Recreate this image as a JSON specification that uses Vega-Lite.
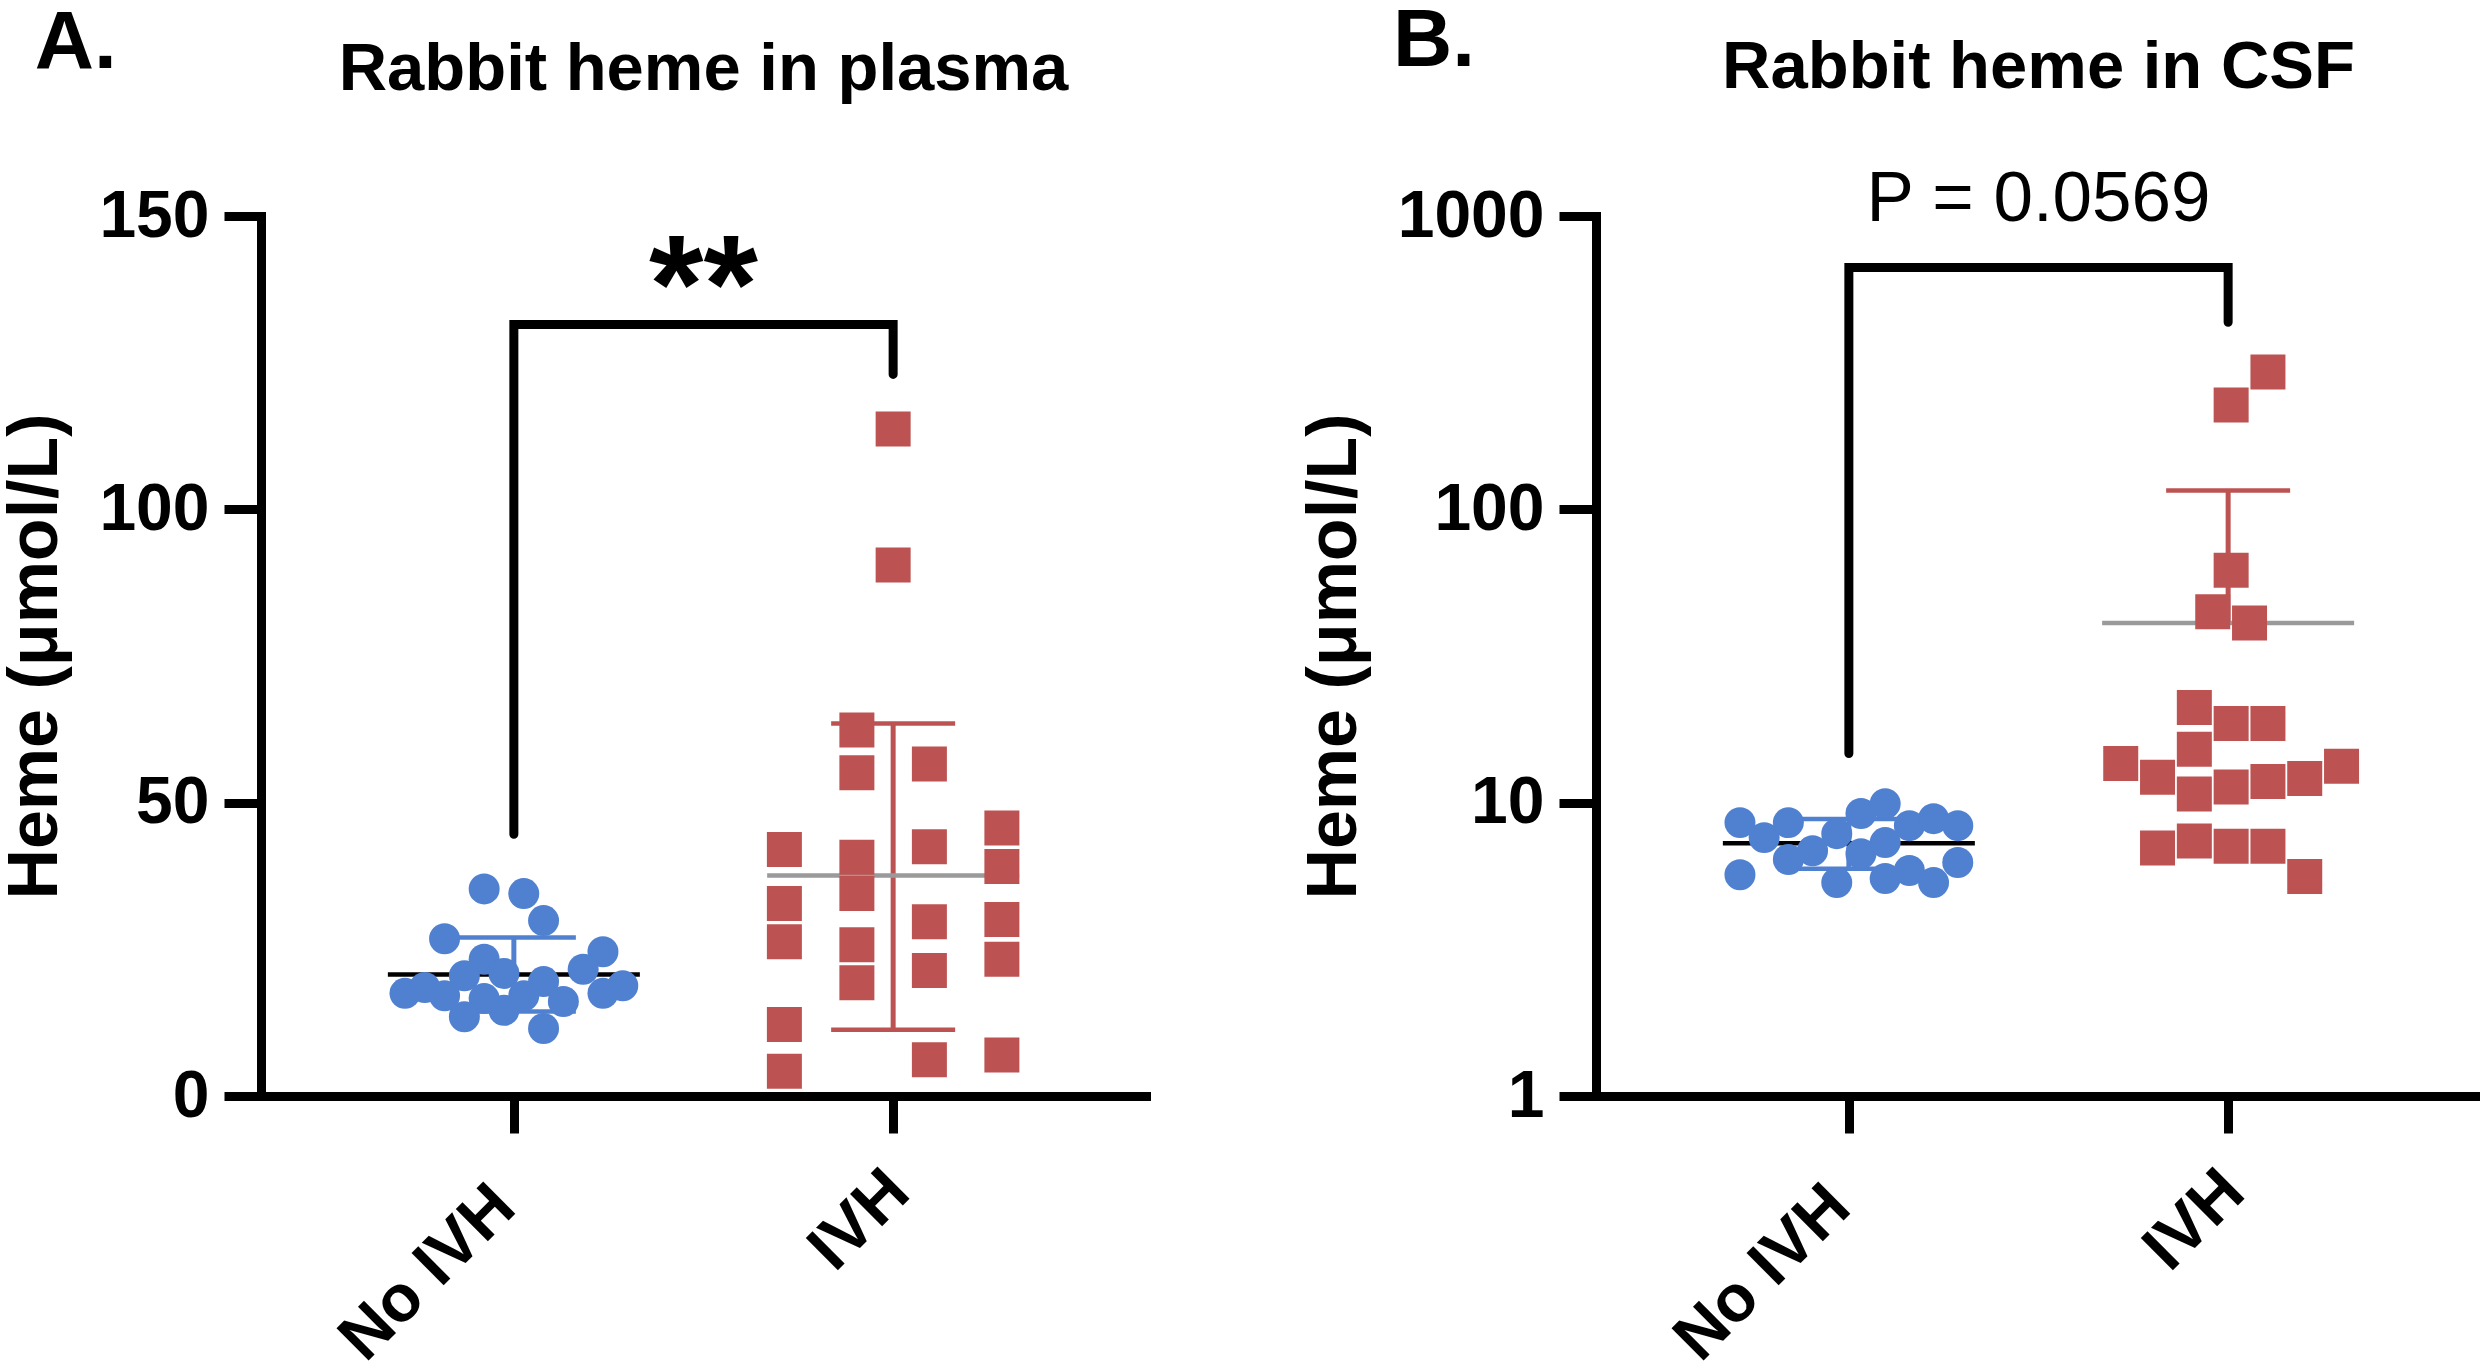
{
  "$schema": "https://vega.github.io/schema/vega-lite/v6.json",
  "padding": 0,
  "background": "white",
  "config": {
    "font": "Liberation Sans",
    "view": {"stroke": null},
    "axis": {
      "domainColor": "#000", "domainWidth": 9, "domainCap": "square",
      "tickColor": "#000", "tickWidth": 9, "tickSize": 37,
      "labelFont": "Liberation Sans", "labelFontSize": 66, "labelFontWeight": "bold", "labelColor": "#000", "labelPadding": 15, "labelLimit": 1000,
      "titleFont": "Liberation Sans", "titleFontSize": 70, "titleFontWeight": "bold", "titleColor": "#000", "titlePadding": 27,
      "grid": false
    },
    "axisX": {
      "labelAngle": -45, "labelAlign": "right", "labelBaseline": "alphabetic",
      "labelPadding": {"condition": {"test": "datum.value === 'IVH'", "value": 62}, "value": 77},
      "labelOffset": {"condition": {"test": "datum.value === 'IVH'", "value": 19}, "value": 4},
      "labelOverlap": false, "labelFlush": false, "labelLimit": 1000
    }
  },
  "datasets": {
    "plasma": [
      {"group": "No IVH", "col": -1.5, "heme": 35.3}, {"group": "No IVH", "col": 0.5, "heme": 34.5}, {"group": "No IVH", "col": 1.5, "heme": 29.9},
      {"group": "No IVH", "col": -3.5, "heme": 26.8}, {"group": "No IVH", "col": 4.5, "heme": 24.6}, {"group": "No IVH", "col": -1.5, "heme": 23.3},
      {"group": "No IVH", "col": 3.5, "heme": 21.6}, {"group": "No IVH", "col": -0.5, "heme": 20.9}, {"group": "No IVH", "col": -2.5, "heme": 20.5},
      {"group": "No IVH", "col": -5.5, "heme": 17.5}, {"group": "No IVH", "col": -4.5, "heme": 18.5}, {"group": "No IVH", "col": -3.5, "heme": 17.1},
      {"group": "No IVH", "col": 1.5, "heme": 19.5}, {"group": "No IVH", "col": 5.5, "heme": 18.8}, {"group": "No IVH", "col": 4.5, "heme": 17.5},
      {"group": "No IVH", "col": -1.5, "heme": 16.6}, {"group": "No IVH", "col": 0.5, "heme": 17.1}, {"group": "No IVH", "col": 2.5, "heme": 16.1},
      {"group": "No IVH", "col": -2.5, "heme": 13.5}, {"group": "No IVH", "col": -0.5, "heme": 14.6}, {"group": "No IVH", "col": 1.5, "heme": 11.5},
      {"group": "IVH", "col": 0, "heme": 113.7}, {"group": "IVH", "col": 0, "heme": 90.5}, {"group": "IVH", "col": -0.5, "heme": 62.4},
      {"group": "IVH", "col": -0.5, "heme": 55.1}, {"group": "IVH", "col": 0.5, "heme": 56.6}, {"group": "IVH", "col": -1.5, "heme": 42.0},
      {"group": "IVH", "col": -0.5, "heme": 40.7}, {"group": "IVH", "col": 0.5, "heme": 42.5}, {"group": "IVH", "col": 1.5, "heme": 45.7},
      {"group": "IVH", "col": 1.5, "heme": 39.1}, {"group": "IVH", "col": -1.5, "heme": 32.8}, {"group": "IVH", "col": -0.5, "heme": 34.5},
      {"group": "IVH", "col": -1.5, "heme": 26.3}, {"group": "IVH", "col": -0.5, "heme": 25.8}, {"group": "IVH", "col": 0.5, "heme": 29.7},
      {"group": "IVH", "col": 1.5, "heme": 30.1}, {"group": "IVH", "col": -0.5, "heme": 19.3}, {"group": "IVH", "col": 0.5, "heme": 21.4},
      {"group": "IVH", "col": 1.5, "heme": 23.3}, {"group": "IVH", "col": -1.5, "heme": 12.2}, {"group": "IVH", "col": -1.5, "heme": 4.2},
      {"group": "IVH", "col": 0.5, "heme": 6.2}, {"group": "IVH", "col": 1.5, "heme": 7.0}
    ],
    "csf": [
      {"group": "No IVH", "col": -4.5, "heme": 8.55}, {"group": "No IVH", "col": -4.5, "heme": 5.68}, {"group": "No IVH", "col": -3.5, "heme": 7.60},
      {"group": "No IVH", "col": -2.5, "heme": 8.55}, {"group": "No IVH", "col": -2.5, "heme": 6.40}, {"group": "No IVH", "col": -1.5, "heme": 6.86},
      {"group": "No IVH", "col": -0.5, "heme": 7.84}, {"group": "No IVH", "col": -0.5, "heme": 5.34}, {"group": "No IVH", "col": 0.5, "heme": 9.18},
      {"group": "No IVH", "col": 0.5, "heme": 6.70}, {"group": "No IVH", "col": 1.5, "heme": 9.92}, {"group": "No IVH", "col": 1.5, "heme": 7.31},
      {"group": "No IVH", "col": 1.5, "heme": 5.51}, {"group": "No IVH", "col": 2.5, "heme": 8.35}, {"group": "No IVH", "col": 2.5, "heme": 5.87},
      {"group": "No IVH", "col": 3.5, "heme": 8.82}, {"group": "No IVH", "col": 3.5, "heme": 5.34}, {"group": "No IVH", "col": 4.5, "heme": 8.35},
      {"group": "No IVH", "col": 4.5, "heme": 6.25},
      {"group": "IVH", "col": 1, "heme": 294}, {"group": "IVH", "col": 0, "heme": 227}, {"group": "IVH", "col": 0, "heme": 62},
      {"group": "IVH", "col": -0.5, "heme": 44.8}, {"group": "IVH", "col": 0.5, "heme": 41}, {"group": "IVH", "col": -1, "heme": 21.1},
      {"group": "IVH", "col": 0, "heme": 18.6}, {"group": "IVH", "col": 1, "heme": 18.6}, {"group": "IVH", "col": -1, "heme": 15.2},
      {"group": "IVH", "col": -3, "heme": 13.6}, {"group": "IVH", "col": -2, "heme": 12.2}, {"group": "IVH", "col": -1, "heme": 10.7},
      {"group": "IVH", "col": 0, "heme": 11.3}, {"group": "IVH", "col": 1, "heme": 11.8}, {"group": "IVH", "col": 2, "heme": 12.1},
      {"group": "IVH", "col": 3, "heme": 13.3}, {"group": "IVH", "col": -2, "heme": 7.0}, {"group": "IVH", "col": -1, "heme": 7.4},
      {"group": "IVH", "col": 0, "heme": 7.1}, {"group": "IVH", "col": 1, "heme": 7.1}, {"group": "IVH", "col": 2, "heme": 5.6}
    ],
    "sumA": [
      {"group": "No IVH", "mean": 20.7, "lo": 14.4, "hi": 27.0},
      {"group": "IVH", "mean": 37.6, "lo": 11.3, "hi": 63.5}
    ],
    "sumB": [
      {"group": "No IVH", "mean": 7.27, "lo": 5.95, "hi": 8.79},
      {"group": "IVH", "mean": 41, "lo": null, "hi": 116}
    ],
    "bracketA": [
      {"bx": 1, "by": 44.6, "o": 1}, {"bx": 1, "by": 131.5, "o": 2}, {"bx": 2, "by": 131.5, "o": 3}, {"bx": 2, "by": 123, "o": 4}
    ],
    "bracketB": [
      {"bx": 1, "by": 14.7, "o": 1}, {"bx": 1, "by": 667, "o": 2}, {"bx": 2, "by": 667, "o": 3}, {"bx": 2, "by": 434, "o": 4}
    ],
    "notesA": [
      {"kind": "panel", "label": "A.", "bx": -0.263, "by": 175.3},
      {"kind": "title", "label": "Rabbit heme in plasma", "bx": 1.5, "by": 171.4},
      {"kind": "sig", "label": "**", "bx": 1.5, "by": 130.2}
    ],
    "notesB": [
      {"kind": "panel", "label": "B.", "bx": -0.202, "by": 3234},
      {"kind": "title", "label": "Rabbit heme in CSF", "bx": 1.5, "by": 2721},
      {"kind": "sig", "label": "P = 0.0569", "bx": 1.5, "by": 965}
    ]
  },
  "spacing": 450,
  "bounds": "flush",
  "hconcat": [
    {
      "width": 885,
      "height": 880,
      "resolve": {"scale": {"x": "independent"}, "axis": {"x": "independent"}},
      "layer": [
        {
          "resolve": {"scale": {"xOffset": "independent"}},
          "encoding": {
            "x": {"field": "group", "type": "nominal", "title": null, "sort": ["No IVH", "IVH"], "scale": {"type": "point", "domain": ["No IVH", "IVH"], "padding": 0.6667}}
          },
          "layer": [
            {
              "data": {"name": "sumA"},
              "mark": {"type": "rule", "strokeWidth": 5},
              "encoding": {
                "y": {"field": "mean", "type": "quantitative", "title": "Heme (μmol/L)", "scale": {"domain": [0, 150], "nice": false, "zero": false}, "axis": {"values": [0, 50, 100, 150]}},
                "y2": {"field": "hi"},
                "color": {"condition": {"test": "datum.group === 'IVH'", "value": "#BC5352"}, "value": "#5080D0"}
              }
            },
            {
              "data": {"name": "sumA"},
              "mark": {"type": "rule", "strokeWidth": 5},
              "encoding": {
                "y": {"field": "lo", "type": "quantitative", "title": "Heme (μmol/L)", "scale": {"domain": [0, 150], "nice": false, "zero": false}},
                "y2": {"field": "mean"},
                "color": {"condition": {"test": "datum.group === 'IVH'", "value": "#BC5352"}, "value": "#5080D0"}
              }
            },
            {
              "data": {"name": "sumA"},
              "mark": {"type": "tick", "orient": "horizontal", "size": 124, "thickness": 4.5, "opacity": 1},
              "encoding": {
                "y": {"field": "hi", "type": "quantitative", "title": "Heme (μmol/L)", "scale": {"domain": [0, 150], "nice": false, "zero": false}},
                "color": {"condition": {"test": "datum.group === 'IVH'", "value": "#BC5352"}, "value": "#5080D0"}
              }
            },
            {
              "data": {"name": "sumA"},
              "mark": {"type": "tick", "orient": "horizontal", "size": 124, "thickness": 4.5, "opacity": 1},
              "encoding": {
                "y": {"field": "lo", "type": "quantitative", "title": "Heme (μmol/L)", "scale": {"domain": [0, 150], "nice": false, "zero": false}},
                "color": {"condition": {"test": "datum.group === 'IVH'", "value": "#BC5352"}, "value": "#5080D0"}
              }
            },
            {
              "data": {"name": "sumA"},
              "mark": {"type": "tick", "orient": "horizontal", "size": 252, "thickness": 4.5, "opacity": 1},
              "encoding": {
                "y": {"field": "mean", "type": "quantitative", "title": "Heme (μmol/L)", "scale": {"domain": [0, 150], "nice": false, "zero": false}},
                "color": {"condition": {"test": "datum.group === 'IVH'", "value": "#9A9A9A"}, "value": "#000000"}
              }
            },
            {
              "data": {"name": "plasma"},
              "transform": [{"filter": "datum.group === 'No IVH'"}],
              "mark": {"type": "circle", "size": 960, "opacity": 1, "color": "#5080D0"},
              "encoding": {
                "xOffset": {"field": "col", "type": "quantitative", "scale": {"domain": [-1, 1], "range": [-19.8, 19.8]}},
                "y": {"field": "heme", "type": "quantitative", "title": "Heme (μmol/L)", "scale": {"domain": [0, 150], "nice": false, "zero": false}}
              }
            },
            {
              "data": {"name": "plasma"},
              "transform": [{"filter": "datum.group === 'IVH'"}],
              "mark": {"type": "square", "size": 1225, "opacity": 1, "color": "#BC5352"},
              "encoding": {
                "xOffset": {"field": "col", "type": "quantitative", "scale": {"domain": [-1, 1], "range": [-72.5, 72.5]}},
                "y": {"field": "heme", "type": "quantitative", "title": "Heme (μmol/L)", "scale": {"domain": [0, 150], "nice": false, "zero": false}}
              }
            }
          ]
        },
        {
          "encoding": {
            "x": {"field": "bx", "type": "quantitative", "axis": null, "scale": {"domain": [0.3333, 2.6667], "nice": false, "zero": false}},
            "y": {"field": "by", "type": "quantitative", "title": "Heme (μmol/L)", "scale": {"domain": [0, 150], "nice": false, "zero": false}}
          },
          "layer": [
            {
              "data": {"name": "bracketA"},
              "mark": {"type": "line", "strokeWidth": 9, "strokeCap": "round", "strokeJoin": "miter", "color": "#000"},
              "encoding": {"order": {"field": "o", "type": "quantitative"}}
            },
            {
              "data": {"name": "notesA"},
              "transform": [{"filter": "datum.kind === 'panel'"}],
              "mark": {"type": "text", "align": "left", "baseline": "alphabetic", "fontSize": 82, "fontWeight": "bold", "color": "#000"},
              "encoding": {"text": {"field": "label"}}
            },
            {
              "data": {"name": "notesA"},
              "transform": [{"filter": "datum.kind === 'title'"}],
              "mark": {"type": "text", "align": "center", "baseline": "alphabetic", "fontSize": 67, "fontWeight": "bold", "color": "#000"},
              "encoding": {"text": {"field": "label"}}
            },
            {
              "data": {"name": "notesA"},
              "transform": [{"filter": "datum.kind === 'sig'"}],
              "mark": {"type": "text", "align": "center", "baseline": "alphabetic", "fontSize": 140, "fontWeight": "bold", "color": "#000"},
              "encoding": {"text": {"field": "label"}}
            }
          ]
        }
      ]
    },
    {
      "width": 885,
      "height": 880,
      "resolve": {"scale": {"x": "independent"}, "axis": {"x": "independent"}},
      "layer": [
        {
          "resolve": {"scale": {"xOffset": "independent"}},
          "encoding": {
            "x": {"field": "group", "type": "nominal", "title": null, "sort": ["No IVH", "IVH"], "scale": {"type": "point", "domain": ["No IVH", "IVH"], "padding": 0.6667}}
          },
          "layer": [
            {
              "data": {"name": "sumB"},
              "mark": {"type": "rule", "strokeWidth": 5},
              "encoding": {
                "y": {"field": "mean", "type": "quantitative", "title": "Heme (μmol/L)", "scale": {"type": "log", "domain": [1, 1000], "nice": false}, "axis": {"values": [1, 10, 100, 1000], "format": "d"}},
                "y2": {"field": "hi"},
                "color": {"condition": {"test": "datum.group === 'IVH'", "value": "#BC5352"}, "value": "#5080D0"}
              }
            },
            {
              "data": {"name": "sumB"},
              "mark": {"type": "rule", "strokeWidth": 5},
              "encoding": {
                "y": {"field": "lo", "type": "quantitative", "title": "Heme (μmol/L)", "scale": {"type": "log", "domain": [1, 1000], "nice": false}},
                "y2": {"field": "mean"},
                "color": {"condition": {"test": "datum.group === 'IVH'", "value": "#BC5352"}, "value": "#5080D0"}
              }
            },
            {
              "data": {"name": "sumB"},
              "mark": {"type": "tick", "orient": "horizontal", "size": 124, "thickness": 4.5, "opacity": 1},
              "encoding": {
                "y": {"field": "hi", "type": "quantitative", "title": "Heme (μmol/L)", "scale": {"type": "log", "domain": [1, 1000], "nice": false}},
                "color": {"condition": {"test": "datum.group === 'IVH'", "value": "#BC5352"}, "value": "#5080D0"}
              }
            },
            {
              "data": {"name": "sumB"},
              "mark": {"type": "tick", "orient": "horizontal", "size": 124, "thickness": 4.5, "opacity": 1},
              "encoding": {
                "y": {"field": "lo", "type": "quantitative", "title": "Heme (μmol/L)", "scale": {"type": "log", "domain": [1, 1000], "nice": false}},
                "color": {"condition": {"test": "datum.group === 'IVH'", "value": "#BC5352"}, "value": "#5080D0"}
              }
            },
            {
              "data": {"name": "sumB"},
              "mark": {"type": "tick", "orient": "horizontal", "size": 252, "thickness": 4.5, "opacity": 1},
              "encoding": {
                "y": {"field": "mean", "type": "quantitative", "title": "Heme (μmol/L)", "scale": {"type": "log", "domain": [1, 1000], "nice": false}},
                "color": {"condition": {"test": "datum.group === 'IVH'", "value": "#9A9A9A"}, "value": "#000000"}
              }
            },
            {
              "data": {"name": "csf"},
              "transform": [{"filter": "datum.group === 'No IVH'"}],
              "mark": {"type": "circle", "size": 960, "opacity": 1, "color": "#5080D0"},
              "encoding": {
                "xOffset": {"field": "col", "type": "quantitative", "scale": {"domain": [-1, 1], "range": [-24.2, 24.2]}},
                "y": {"field": "heme", "type": "quantitative", "title": "Heme (μmol/L)", "scale": {"type": "log", "domain": [1, 1000], "nice": false}}
              }
            },
            {
              "data": {"name": "csf"},
              "transform": [{"filter": "datum.group === 'IVH'"}],
              "mark": {"type": "square", "size": 1225, "opacity": 1, "color": "#BC5352"},
              "encoding": {
                "xOffset": {"field": "col", "type": "quantitative", "scale": {"domain": [-1, 1], "range": [-33.8, 39.8]}},
                "y": {"field": "heme", "type": "quantitative", "title": "Heme (μmol/L)", "scale": {"type": "log", "domain": [1, 1000], "nice": false}}
              }
            }
          ]
        },
        {
          "encoding": {
            "x": {"field": "bx", "type": "quantitative", "axis": null, "scale": {"domain": [0.3333, 2.6667], "nice": false, "zero": false}},
            "y": {"field": "by", "type": "quantitative", "title": "Heme (μmol/L)", "scale": {"type": "log", "domain": [1, 1000], "nice": false}}
          },
          "layer": [
            {
              "data": {"name": "bracketB"},
              "mark": {"type": "line", "strokeWidth": 9, "strokeCap": "round", "strokeJoin": "miter", "color": "#000"},
              "encoding": {"order": {"field": "o", "type": "quantitative"}}
            },
            {
              "data": {"name": "notesB"},
              "transform": [{"filter": "datum.kind === 'panel'"}],
              "mark": {"type": "text", "align": "left", "baseline": "alphabetic", "fontSize": 82, "fontWeight": "bold", "color": "#000"},
              "encoding": {"text": {"field": "label"}}
            },
            {
              "data": {"name": "notesB"},
              "transform": [{"filter": "datum.kind === 'title'"}],
              "mark": {"type": "text", "align": "center", "baseline": "alphabetic", "fontSize": 67, "fontWeight": "bold", "color": "#000"},
              "encoding": {"text": {"field": "label"}}
            },
            {
              "data": {"name": "notesB"},
              "transform": [{"filter": "datum.kind === 'sig'"}],
              "mark": {"type": "text", "align": "center", "baseline": "alphabetic", "fontSize": 71, "fontWeight": "normal", "color": "#000"},
              "encoding": {"text": {"field": "label"}}
            }
          ]
        }
      ]
    }
  ]
}
